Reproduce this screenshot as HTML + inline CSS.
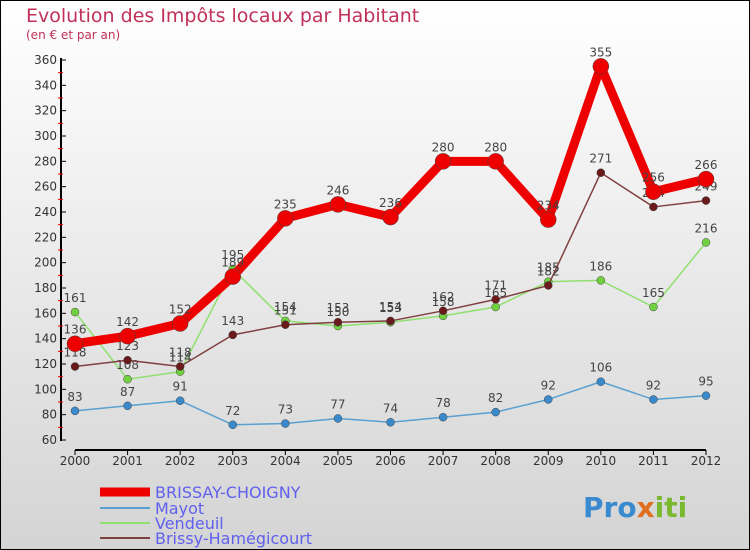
<!DOCTYPE html>
<html><head><meta charset="utf-8"><style>
body{margin:0}
#c{width:750px;height:550px;position:relative;overflow:hidden;font-family:"DejaVu Sans","Liberation Sans",sans-serif;}
</style></head><body>
<div id="c">
<svg id="s" width="750" height="550" xmlns="http://www.w3.org/2000/svg">
<defs><linearGradient id="bg" x1="0" y1="0" x2="0" y2="1"><stop offset="0" stop-color="#ffffff"/><stop offset="1" stop-color="#d4d4d4"/></linearGradient></defs>
<rect x="0.5" y="0.5" width="749" height="549" fill="url(#bg)" stroke="#000"/>
<text x="26" y="22" font-size="19" fill="#c0305a">Evolution des Impôts locaux par Habitant</text>
<text x="26" y="39" font-size="12" fill="#c0305a">(en € et par an)</text>
<g id="axes"></g><g id="series"></g><g id="legend"></g>
<text x="583" y="517" font-size="28" font-weight="bold" fill="#3a8ad0">Pro<tspan fill="#e07020">x</tspan><tspan fill="#7ab830">iti</tspan></text>
</svg></div>
<script>
const years=[2000,2001,2002,2003,2004,2005,2006,2007,2008,2009,2010,2011,2012];
const brissayChoigny=[136,142,152,189,235,246,236,280,280,234,355,256,266];
const mayot=[83,87,91,72,73,77,74,78,82,92,106,92,95];
const vendeuil=[161,108,114,195,154,150,153,158,165,185,186,165,216];
const brissyHamegicourt=[118,123,118,143,151,153,154,162,171,182,271,244,249];
const yTicks=[60,80,100,120,140,160,180,200,220,240,260,280,300,320,340,360];
const NS="http://www.w3.org/2000/svg";
const X=i=>75+i*(706-75)/(years.length-1);
const Y=v=>440-(v-60)*380/300;
function mk(tag,attrs,parent){const e=document.createElementNS(NS,tag);for(const k in attrs)e.setAttribute(k,attrs[k]);parent.appendChild(e);return e;}
const ax=document.getElementById('axes');
let l=mk('line',{x1:61,y1:58,x2:61,y2:441,stroke:'#000','stroke-width':2},ax);


l=mk('line',{x1:75,y1:450,x2:706,y2:450,stroke:'#000','stroke-width':2},ax);


yTicks.forEach(v=>{
 mk('line',{x1:61,y1:Y(v),x2:66,y2:Y(v),stroke:'#000'},ax);
 if(v<360)mk('line',{x1:58,y1:Y(v+10),x2:63,y2:Y(v+10),stroke:'#e00'},ax);
 const t=mk('text',{x:57,y:Y(v)+4,'font-size':12,'text-anchor':'end',fill:'#333'},ax);t.textContent=v;
 
 
});
years.forEach((yr,i)=>{
 mk('line',{x1:X(i),y1:450,x2:X(i),y2:455,stroke:'#000'},ax);
 const t=mk('text',{x:X(i),y:465,'font-size':12,'text-anchor':'middle',fill:'#333'},ax);t.textContent=yr;
 
 
});
const ser=document.getElementById('series');
const defs=[
 {name:'mayot',data:mayot,color:'#5aa0d0',pt:'#3a8acb',w:1.5,r:4},
 {name:'vendeuil',data:vendeuil,color:'#90e070',pt:'#70d040',w:1.5,r:4},
 {name:'brissy-hamegicourt',data:brissyHamegicourt,color:'#804040',pt:'#6a1a1a',w:1.5,r:4},
 {name:'brissay-choigny',data:brissayChoigny,color:'#ee0000',pt:'#ee0000',w:9,r:8}
];
defs.forEach(d=>{
 const g=mk('g',{},ser);
 
 
 const p=mk('polyline',{points:d.data.map((v,i)=>X(i)+','+Y(v)).join(' '),fill:'none',stroke:d.color,'stroke-width':d.w,'stroke-linejoin':'round'},g);
 
 
 d.data.forEach((v,i)=>{
  const c=mk('circle',{cx:X(i),cy:Y(v),r:d.r,fill:d.pt,stroke:'#444','stroke-width':0.5},g);
  
  
  const t=mk('text',{x:X(i),y:Y(v)-10,'font-size':12,'text-anchor':'middle',fill:'#444'},g);t.textContent=v;
  
  
 });
});
const lg=document.getElementById('legend');
const leg=[['BRISSAY-CHOIGNY','#ee0000',9,492],['Mayot','#5aa0d0',2,508],['Vendeuil','#90e070',2,523],['Brissy-Hamégicourt','#804040',2,538]];
leg.forEach(([n,c,w,y])=>{
 const g=mk('g',{},lg);
 
 
 mk('line',{x1:100,y1:y,x2:150,y2:y,stroke:c,'stroke-width':w},g);
 const t=mk('text',{x:155,y:y+6,'font-size':16,fill:'#6060ee'},g);t.textContent=n;
});
</script>
</body></html>
